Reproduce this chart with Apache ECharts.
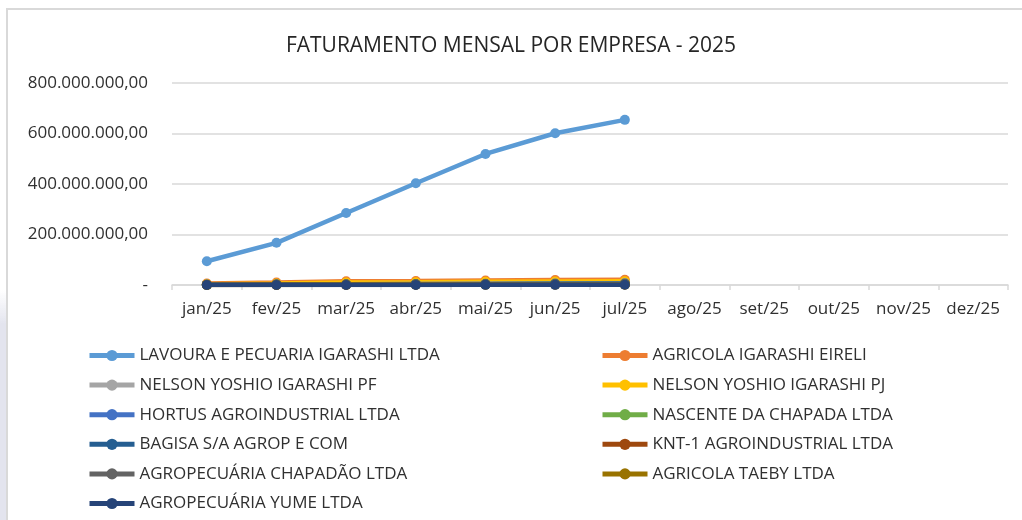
<!DOCTYPE html>
<html>
<head>
<meta charset="utf-8">
<script src="https://cdn.jsdelivr.net/npm/echarts@6/dist/echarts.min.js"></script>
<style>
html,body{margin:0;padding:0;background:#fff;}
#chart{width:1022px;height:520px;}
</style>
</head>
<body>
<div id="chart"></div>
<script>
const categories = ['jan/25','fev/25','mar/25','abr/25','mai/25','jun/25','jul/25','ago/25','set/25','out/25','nov/25','dez/25'];
const seriesNames = [
  'LAVOURA E PECUARIA IGARASHI LTDA',
  'AGRICOLA IGARASHI EIRELI',
  'NELSON YOSHIO IGARASHI PF',
  'NELSON YOSHIO IGARASHI PJ',
  'HORTUS AGROINDUSTRIAL LTDA',
  'NASCENTE DA CHAPADA LTDA',
  'BAGISA S/A AGROP E COM',
  'KNT-1 AGROINDUSTRIAL LTDA',
  'AGROPECUÁRIA CHAPADÃO LTDA',
  'AGRICOLA TAEBY LTDA',
  'AGROPECUÁRIA YUME LTDA'
];
const lavoura   = [94e6, 167e6, 285e6, 403e6, 519e6, 601e6, 654e6, null, null, null, null, null];
const agricola  = [6e6, 10e6, 15e6, 16e6, 18e6, 20e6, 21e6, null, null, null, null, null];
const nelsonPF  = [1e6, 2e6, 3e6, 3e6, 4e6, 4e6, 5e6, null, null, null, null, null];
const nelsonPJ  = [3e6, 6e6, 10e6, 11e6, 13e6, 14e6, 15e6, null, null, null, null, null];
const hortus    = [1e6, 2e6, 3e6, 4e6, 5e6, 6e6, 7e6, null, null, null, null, null];
const nascente  = [0.5e6, 1.5e6, 2e6, 2.5e6, 3e6, 3.5e6, 4e6, null, null, null, null, null];
const bagisa    = [0.8e6, 1.5e6, 2e6, 2.5e6, 3e6, 3.5e6, 4e6, null, null, null, null, null];
const knt1      = [0.3e6, 0.6e6, 1e6, 1.2e6, 1.5e6, 1.8e6, 2e6, null, null, null, null, null];
const chapadao  = [0.5e6, 1e6, 1.5e6, 2e6, 2.5e6, 3e6, 3.5e6, null, null, null, null, null];
const taeby     = [0.2e6, 0.4e6, 0.6e6, 0.8e6, 1e6, 1.2e6, 1.4e6, null, null, null, null, null];
const yume      = [0.1e6, 0.2e6, 0.3e6, 0.4e6, 0.5e6, 0.6e6, 0.7e6, null, null, null, null, null];
const yTicks = [0, 200e6, 400e6, 600e6, 800e6];

const allData = [lavoura, agricola, nelsonPF, nelsonPJ, hortus, nascente, bagisa, knt1, chapadao, taeby, yume];
const colors = ['#5B9BD5','#ED7D31','#A5A5A5','#FFC000','#4472C4','#70AD47','#255E91','#9E480E','#636363','#997300','#264478'];

const FONT = 'Open Sans';
function fmt(v){
  if (v === 0) return '-';
  const s = Math.round(v).toString().replace(/\B(?=(\d{3})+(?!\d))/g, '.');
  return s + ',00';
}

const chart = echarts.init(document.getElementById('chart'), null, {renderer:'canvas'});
const legendCommon = {
  orient: 'vertical',
  top: 347,
  height: 260,
  padding: 0,
  itemWidth: 45,
  itemHeight: 14,
  itemGap: 12.6,
  lineStyle: {width: 5},
  textStyle: {fontFamily: FONT, fontSize: 17, color: '#303030', lineHeight: 14}
};
chart.setOption({
  animation: false,
  color: colors,
  graphic: [
    {type:'rect', shape:{x:0,y:290,width:6,height:230}, style:{fill:new echarts.graphic.LinearGradient(0,0,0,1,[{offset:0,color:'rgba(227,228,238,0)'},{offset:0.15,color:'#e3e4ee'},{offset:1,color:'#e3e4ee'}])}, silent:true},
    {type:'rect', shape:{x:6,y:8,width:2,height:512}, style:{fill:'#d9d9d9'}, silent:true},
    {type:'rect', shape:{x:6,y:8,width:1016,height:2}, style:{fill:'#d9d9d9'}, silent:true}
  ],
  title: {
    text: 'FATURAMENTO MENSAL POR EMPRESA - 2025',
    left: 'center',
    top: 31,
    textStyle: {fontFamily: FONT, fontSize: 21, fontWeight: 'normal', color: '#262626'}
  },
  legend: [
    Object.assign({}, legendCommon, {left: 87, data: seriesNames.filter((n,i)=>i%2===0)}),
    Object.assign({}, legendCommon, {left: 600, data: seriesNames.filter((n,i)=>i%2===1)})
  ],
  grid: {left: 172, right: 14, top: 83, bottom: 235, containLabel: false},
  xAxis: {
    type: 'category',
    data: categories,
    boundaryGap: true,
    axisLine: {lineStyle: {color: '#d9d9d9', width: 1.5}},
    axisTick: {show: true, length: 5, interval: 0, lineStyle: {color: '#d9d9d9', width: 1.5}},
    axisLabel: {fontFamily: FONT, fontSize: 17, color: '#303030', margin: 16, interval: 0, hideOverlap: false}
  },
  yAxis: {
    type: 'value',
    min: yTicks[0],
    max: yTicks[yTicks.length-1],
    interval: yTicks[1]-yTicks[0],
    axisLine: {show: false},
    axisTick: {show: false},
    splitLine: {lineStyle: {color: '#d9d9d9', width: 1.5}},
    axisLabel: {fontFamily: FONT, fontSize: 17, color: '#303030', margin: 24, formatter: fmt}
  },
  series: allData.map((d, i) => ({
    name: seriesNames[i],
    type: 'line',
    data: d,
    symbol: 'circle',
    symbolSize: 10,
    showSymbol: true,
    connectNulls: false,
    lineStyle: {width: 4.5, color: colors[i]},
    itemStyle: {color: colors[i]},
    z: 2 + i
  }))
});
</script>
</body>
</html>
